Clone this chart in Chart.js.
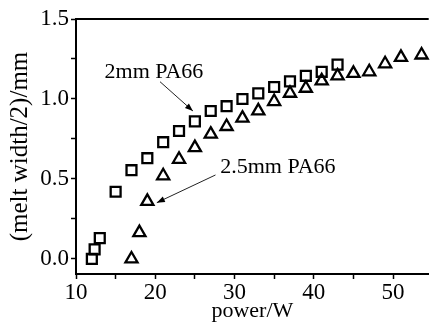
<!doctype html>
<html>
<head>
  <title>melt width vs power</title>
  <style>
    body { margin: 0; background: #fff; }
    #wrap { width: 438px; height: 325px; }
  </style>
</head>
<body>
<div id="wrap"><canvas id="chart" width="438" height="325"></canvas></div>

<script src="https://cdn.jsdelivr.net/npm/chart.js"></script>
<script>

	// 2mm PA66 (squares)
	const power2 = [12, 12.35, 13, 15, 17, 19, 21, 23, 25, 27, 29, 31, 33, 35, 37, 39, 41, 43]
	const width2 = [0, 0.06, 0.13, 0.42, 0.555, 0.63, 0.73, 0.80, 0.86, 0.925, 0.955, 1.0, 1.035, 1.075, 1.11, 1.145, 1.17, 1.215]

	// 2.5mm PA66 (triangles)
	const power25 = [17, 18, 19, 21, 23, 25, 27, 29, 31, 33, 35, 37, 39, 41, 43, 45, 47, 49, 51, 53.6]
	const width25 = [0, 0.165, 0.36, 0.52, 0.623, 0.696, 0.78, 0.828, 0.88, 0.926, 0.984, 1.036, 1.067, 1.113, 1.144, 1.16, 1.17, 1.22, 1.26, 1.275]

	const xTicks = [10, 15, 20, 25, 30, 35, 40, 45, 50]
	const xLabels = ['10', '', '20', '', '30', '', '40', '', '50']
	const yTicks = [0, 0.25, 0.5, 0.75, 1.0, 1.25, 1.5]
	const yLabels = ['0.0', '', '0.5', '', '1.0', '', '1.5']

	// annotation labels with arrow start -> arrow end, in data units
	const notes = [
		{ text: '2mm PA66', at: [13.6, 1.13], from: [20.6, 1.108], to: [24.75, 0.925] },
		{ text: '2.5mm PA66', at: [28.2, 0.54], from: [27.6, 0.525], to: [20.2, 0.352] },
	]

	const serif = 'Liberation Serif'

	const toPoints = (xs, ys) => xs.map((x, i) => ({ x: x, y: ys[i] }))

	const notesPlugin = {
		id: 'notes',
		afterDraw(chart) {
			const ctx = chart.ctx
			const xs = chart.scales.x
			const ys = chart.scales.y
			const area = chart.chartArea

			ctx.save()
			// top frame line
			ctx.strokeStyle = '#000'
			ctx.lineWidth = 2
			ctx.beginPath()
			ctx.moveTo(area.left - 1, area.top)
			ctx.lineTo(area.right, area.top)
			ctx.stroke()

			ctx.fillStyle = '#000'
			ctx.font = '22px "' + serif + '"'
			ctx.textBaseline = 'alphabetic'
			ctx.textAlign = 'left'
			notes.forEach(n => {
				ctx.fillText(n.text, xs.getPixelForValue(n.at[0]), ys.getPixelForValue(n.at[1]))

				const x0 = xs.getPixelForValue(n.from[0]), y0 = ys.getPixelForValue(n.from[1])
				const x1 = xs.getPixelForValue(n.to[0]), y1 = ys.getPixelForValue(n.to[1])
				const a = Math.atan2(y1 - y0, x1 - x0)
				ctx.strokeStyle = '#222'
				ctx.lineWidth = 1
				ctx.beginPath()
				ctx.moveTo(x0, y0)
				ctx.lineTo(x1, y1)
				ctx.stroke()
				ctx.beginPath()
				ctx.moveTo(x1, y1)
				ctx.lineTo(x1 - 8 * Math.cos(a) + 3 * Math.sin(a), y1 - 8 * Math.sin(a) - 3 * Math.cos(a))
				ctx.lineTo(x1 - 8 * Math.cos(a) - 3 * Math.sin(a), y1 - 8 * Math.sin(a) + 3 * Math.cos(a))
				ctx.closePath()
				ctx.fill()
			})
			ctx.restore()
		}
	}

	const marker = {
		showLine: false,
		pointRadius: 7,
		pointHoverRadius: 7,
		pointBorderWidth: 2.3,
		borderColor: '#000',
		backgroundColor: 'rgba(0,0,0,0)',
	}

	new Chart(document.getElementById('chart'), {
		type: 'scatter',
		data: {
			datasets: [
				Object.assign({ label: '2mm PA66', data: toPoints(power2, width2), pointStyle: 'rect' }, marker),
				Object.assign({ label: '2.5mm PA66', data: toPoints(power25, width25), pointStyle: 'triangle' }, marker),
			]
		},
		options: {
			responsive: false,
			animation: false,
			clip: false,
			layout: { padding: { top: 19, right: 0, left: 0, bottom: 0 } },
			plugins: {
				legend: { display: false },
				tooltip: { enabled: false },
			},
			scales: {
				x: {
					type: 'linear',
					min: 10,
					max: 54.5,
					afterBuildTicks: s => { s.ticks = xTicks.map(v => ({ value: v })) },
					afterFit: s => { s.height = 51 },
					ticks: {
						autoSkip: false,
						maxRotation: 0,
						padding: 0,
						color: '#000',
						font: { family: serif, size: 23 },
						callback: (v, i) => xLabels[i],
					},
					grid: { drawOnChartArea: false, tickLength: 5, tickColor: '#000', tickWidth: 1.5 },
					border: { color: '#000', width: 2 },
					title: {
						display: true,
						text: 'power/W',
						color: '#000',
						font: { family: serif, size: 22 },
						padding: { top: 0, bottom: 1 },
					},
				},
				y: {
					min: -0.094,
					max: 1.5,
					afterBuildTicks: s => { s.ticks = yTicks.map(v => ({ value: v })) },
					afterFit: s => { s.width = 76 },
					ticks: {
						autoSkip: false,
						padding: 2,
						color: '#000',
						font: { family: serif, size: 23 },
						callback: (v, i) => yLabels[i],
					},
					grid: { drawOnChartArea: false, tickLength: 5, tickColor: '#000', tickWidth: 1.5 },
					border: { color: '#000', width: 2 },
					title: {
						display: true,
						text: '(melt width/2)/mm',
						color: '#000',
						font: { family: serif, size: 25 },
						padding: { top: 5, bottom: 0 },
					},
				},
			}
		},
		plugins: [notesPlugin]
	})

</script>
</body>
</html>
